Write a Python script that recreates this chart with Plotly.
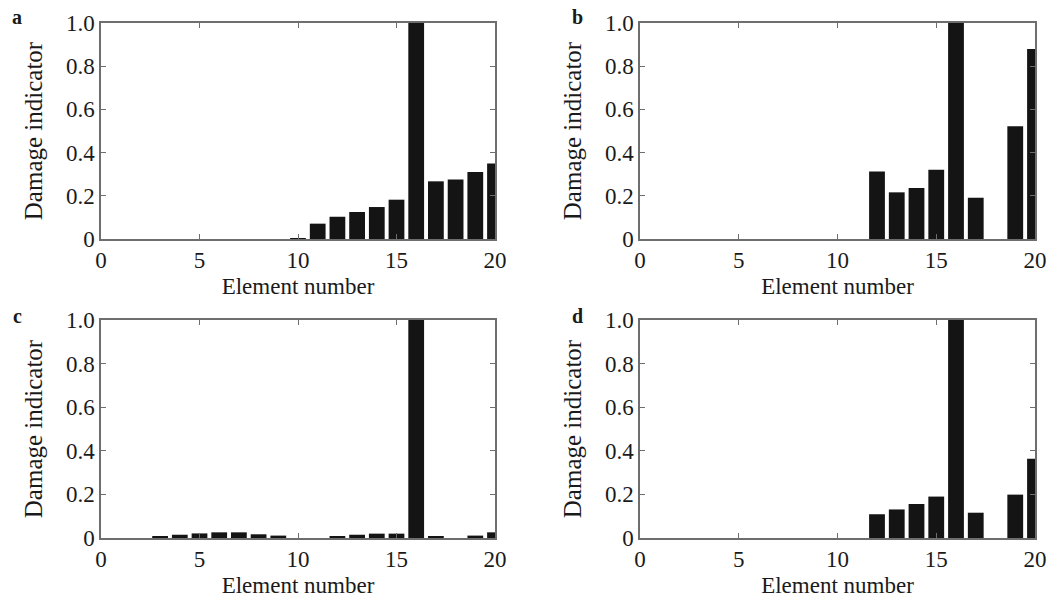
import plotly.graph_objects as go

elements = list(range(1, 21))
damage_a = [0, 0, 0, 0, 0, 0, 0, 0, 0, 0.004, 0.071, 0.103, 0.125, 0.148, 0.182, 1.0, 0.267, 0.275, 0.31, 0.349]
damage_b = [0, 0, 0, 0, 0, 0, 0, 0, 0, 0, 0, 0.313, 0.216, 0.236, 0.321, 1.0, 0.191, 0, 0.522, 0.88]
damage_c = [0, 0, 0.006, 0.015, 0.021, 0.026, 0.026, 0.017, 0.011, 0, 0, 0.008, 0.015, 0.02, 0.02, 1.0, 0.005, 0, 0.011, 0.026]
damage_d = [0, 0, 0, 0, 0, 0, 0, 0, 0, 0, 0, 0.109, 0.131, 0.156, 0.19, 1.0, 0.116, 0, 0.199, 0.364]

panel_labels = ["a", "b", "c", "d"]
x_ticks = [0, 5, 10, 15, 20]
y_ticks = [0, 0.2, 0.4, 0.6, 0.8, 1.0]
y_tick_text = ["0", "0.2", "0.4", "0.6", "0.8", "1.0"]

W, H = 1050, 601
FONT = "Liberation Serif"

# pixel boxes (left, right, top, bottom)
boxes = [(101, 495, 23, 239), (640, 1035, 23, 239), (101, 495, 320, 538), (640, 1035, 320, 538)]
label_pos = [(17, 17), (577, 17), (17, 316), (577, 316)]

fig = go.Figure()
series = [damage_a, damage_b, damage_c, damage_d]
for i, (vals, box) in enumerate(zip(series, boxes)):
    n = i + 1
    xa = "x" if n == 1 else f"x{n}"
    ya = "y" if n == 1 else f"y{n}"
    fig.add_trace(go.Bar(x=elements, y=vals, width=0.8, marker=dict(color="#141414", line=dict(width=0)),
                         xaxis=xa, yaxis=ya, showlegend=False))
    l, r, t, b = box
    axis_common = dict(showline=True, linecolor="#6e6e6e", linewidth=1.5, mirror="ticks",
                       ticks="inside", ticklen=5, tickcolor="#6e6e6e", tickwidth=1.2,
                       showgrid=False, zeroline=False, automargin=False,
                       tickfont=dict(family=FONT, size=23, color="#1a1a1a"))
    fig.layout[f"xaxis{'' if n == 1 else n}"] = dict(
        domain=[l / W, r / W], anchor=ya, range=[0, 20], tickvals=x_ticks,
        title=dict(text="Element number", font=dict(family=FONT, size=23, color="#1a1a1a"), standoff=6),
        **axis_common)
    fig.layout[f"yaxis{'' if n == 1 else n}"] = dict(
        domain=[1 - b / H, 1 - t / H], anchor=xa, range=[0, 1.0], tickvals=y_ticks, ticktext=y_tick_text,
        title=dict(text="Damage indicator", font=dict(family=FONT, size=25, color="#1a1a1a"), standoff=16),
        **axis_common)
    lx, ly = label_pos[i]
    fig.add_annotation(text=f"<b>{panel_labels[i]}</b>", x=lx / W, y=1 - ly / H, xref="paper", yref="paper",
                       showarrow=False, font=dict(family=FONT, size=20, color="#1a1a1a"),
                       xanchor="center", yanchor="middle")

fig.update_layout(width=W, height=H, margin=dict(l=0, r=0, t=0, b=0),
                  plot_bgcolor="white", paper_bgcolor="white", bargap=0.2)
fig.write_html("out.html", config={"displayModeBar": False},
               post_script="document.body.style.margin='0';document.body.style.padding='0';")
